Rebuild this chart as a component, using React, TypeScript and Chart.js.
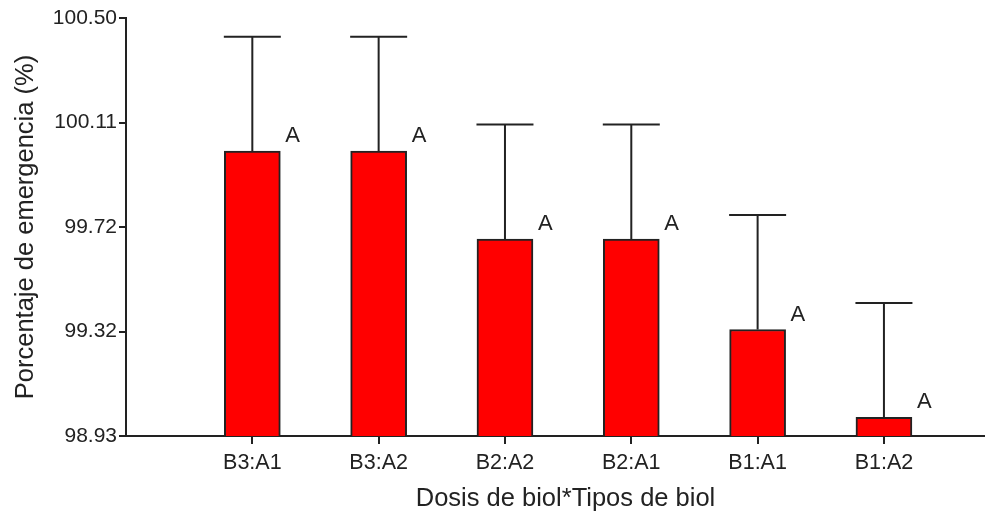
import React, { useEffect, useRef } from "react";
import { Chart, registerables } from "chart.js";

Chart.register(...registerables);

const categories = ["B3:A1", "B3:A2", "B2:A2", "B2:A1", "B1:A1", "B1:A2"];
const xPositions = [1, 2, 3, 4, 5, 6];
const means = [100.0, 100.0, 99.67, 99.67, 99.33, 99.0];
const upperError = [100.43, 100.43, 100.1, 100.1, 99.76, 99.43];
const letters = ["A", "A", "A", "A", "A", "A"];
const yTickValues = [98.93, 99.3225, 99.715, 100.1075, 100.5];
const yTickLabels = ["98.93", "99.32", "99.72", "100.11", "100.50"];
const xTitle = "Dosis de biol*Tipos de biol";
const yTitle = "Porcentaje de emergencia (%)";

const FONT = "'Liberation Sans', Arial, sans-serif";
const INK = "#222";

const errorBarPlugin = {
  id: "errorBars",
  afterDatasetsDraw(chart: any) {
    const ctx = chart.ctx;
    const xs = chart.scales.x;
    const ys = chart.scales.y;
    const ca = chart.chartArea;
    ctx.save();
    ctx.strokeStyle = INK;
    ctx.lineWidth = 2;
    xPositions.forEach((xv, i) => {
      const px = xs.getPixelForValue(xv);
      const top = ys.getPixelForValue(means[i]);
      const up = ys.getPixelForValue(upperError[i]);
      ctx.beginPath();
      ctx.moveTo(px, top);
      ctx.lineTo(px, up);
      ctx.moveTo(px - 28.5, up);
      ctx.lineTo(px + 28.5, up);
      ctx.stroke();
      ctx.fillStyle = INK;
      ctx.font = `22px ${FONT}`;
      ctx.textAlign = "left";
      ctx.textBaseline = "alphabetic";
      ctx.fillText(letters[i], px + 33, top - 9);
    });
    ctx.fillStyle = INK;
    ctx.font = `25.5px ${FONT}`;
    ctx.textAlign = "center";
    ctx.textBaseline = "alphabetic";
    ctx.fillText(xTitle, (ca.left + ca.right) / 2 + 10, 506);
    ctx.restore();
  },
  afterDraw(chart: any) {
    const ctx = chart.ctx;
    const xs = chart.scales.x;
    const ca = chart.chartArea;
    ctx.save();
    ctx.fillStyle = INK;
    xPositions.forEach((xv) => {
      const tx = Math.round(xs.getPixelForValue(xv));
      ctx.fillRect(tx - 1, ca.bottom, 2, 8);
    });
    ctx.restore();
  },
};

export default function App() {
  const ref = useRef<HTMLCanvasElement | null>(null);
  useEffect(() => {
    document.body.style.margin = "0";
    const canvas = ref.current!;
    const chart = new Chart(canvas, {
      type: "bar",
      data: {
        datasets: [
          {
            data: xPositions.map((x, i) => ({ x, y: means[i] })),
            backgroundColor: "#ff0000",
            borderColor: INK,
            borderWidth: 2,
            barThickness: 56,
          },
        ],
      },
      options: {
        animation: false,
        responsive: false,
        devicePixelRatio: 1,
        layout: { padding: { top: 18, right: 0, left: 0, bottom: 0 } },
        plugins: { legend: { display: false }, tooltip: { enabled: false } },
        scales: {
          x: {
            type: "linear",
            min: 0,
            max: 6.8,
            offset: false,
            afterBuildTicks: (s: any) => {
              s.ticks = xPositions.map((v) => ({ value: v }));
            },
            afterFit: (s: any) => {
              s.height = 77;
            },
            ticks: {
              autoSkip: false,
              maxRotation: 0,
              padding: 6,
              color: INK,
              font: { family: FONT, size: 21.5 },
              callback: (v: any) => categories[xPositions.indexOf(Number(v))] ?? "",
            },
            grid: { display: false },
            border: { display: true, color: INK, width: 2 },
            title: { display: false },
          },
          y: {
            type: "linear",
            min: 98.93,
            max: 100.5,
            afterBuildTicks: (s: any) => {
              s.ticks = yTickValues.map((v) => ({ value: v }));
            },
            afterFit: (s: any) => {
              s.width = 126;
            },
            ticks: {
              padding: 2,
              color: INK,
              font: { family: FONT, size: 21 },
              callback: (_v: any, i: number) => yTickLabels[i],
            },
            grid: { drawOnChartArea: false, drawTicks: true, tickLength: 7, color: INK, lineWidth: 2 },
            border: { display: true, color: INK, width: 2 },
            title: {
              display: true,
              text: yTitle,
              color: INK,
              font: { family: FONT, size: 25.5 },
              padding: { top: 11, bottom: 0 },
            },
          },
        },
      },
      plugins: [errorBarPlugin],
    } as any);
    return () => chart.destroy();
  }, []);
  return <canvas ref={ref} width={985} height={513} style={{ display: "block" }} />;
}
